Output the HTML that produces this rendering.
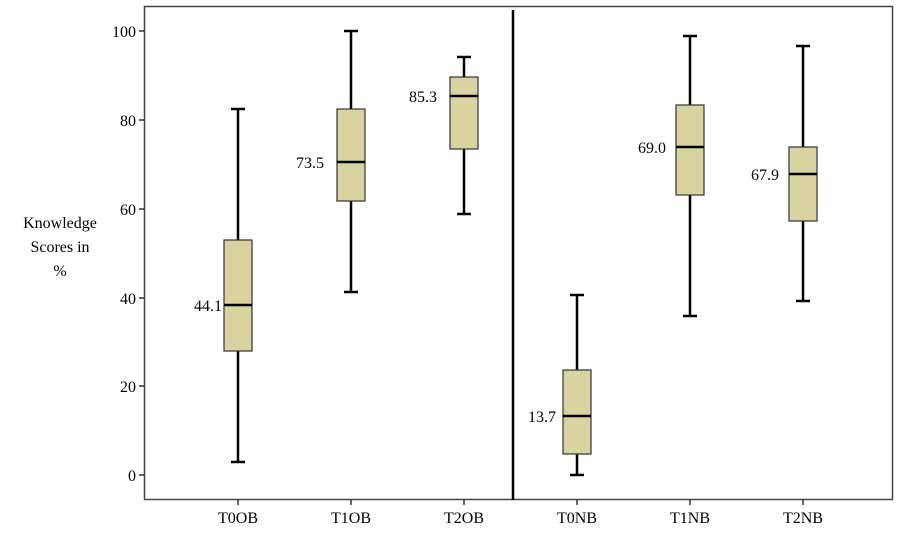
<!DOCTYPE html>
<html><head><meta charset="utf-8"><style>body{margin:0;background:#fff}</style></head><body>
<svg width="903" height="531" xmlns="http://www.w3.org/2000/svg" font-family="Liberation Serif, serif" font-size="16" fill="#000">
<rect x="0" y="0" width="903" height="531" fill="#fff"/>
<rect x="144.5" y="6.5" width="748" height="493" fill="none" stroke="#444" stroke-width="1.5"/>
<g stroke="#000" stroke-width="1.2">
<line x1="139" y1="31" x2="144" y2="31"/><line x1="139" y1="120" x2="144" y2="120"/><line x1="139" y1="209" x2="144" y2="209"/><line x1="139" y1="298" x2="144" y2="298"/><line x1="139" y1="386" x2="144" y2="386"/><line x1="139" y1="475" x2="144" y2="475"/>
<line x1="238" y1="500" x2="238" y2="505"/><line x1="351" y1="500" x2="351" y2="505"/><line x1="464" y1="500" x2="464" y2="505"/><line x1="577" y1="500" x2="577" y2="505"/><line x1="690" y1="500" x2="690" y2="505"/><line x1="803" y1="500" x2="803" y2="505"/>
</g>
<g text-anchor="end">
<text x="136" y="37">100</text><text x="136" y="126">80</text><text x="136" y="215">60</text><text x="136" y="304">40</text><text x="136" y="392">20</text><text x="136" y="481">0</text>
</g>
<g text-anchor="middle">
<text x="238" y="523">T0OB</text><text x="351" y="523">T1OB</text><text x="464" y="523">T2OB</text><text x="577" y="523">T0NB</text><text x="690" y="523">T1NB</text><text x="803" y="523">T2NB</text>
<text x="60" y="228">Knowledge</text><text x="60" y="252">Scores in</text><text x="60" y="276">%</text>
</g>
<line x1="513" y1="10" x2="513" y2="500" stroke="#000" stroke-width="2.5"/>
<g stroke="#000" stroke-width="2.5">
<line x1="238" y1="109" x2="238" y2="462"/><line x1="231" y1="109" x2="245" y2="109"/><line x1="231" y1="462" x2="245" y2="462"/>
<line x1="351" y1="31" x2="351" y2="292"/><line x1="344" y1="31" x2="358" y2="31"/><line x1="344" y1="292" x2="358" y2="292"/>
<line x1="464" y1="57" x2="464" y2="214"/><line x1="457" y1="57" x2="471" y2="57"/><line x1="457" y1="214" x2="471" y2="214"/>
<line x1="577" y1="295" x2="577" y2="475"/><line x1="570" y1="295" x2="584" y2="295"/><line x1="570" y1="475" x2="584" y2="475"/>
<line x1="690" y1="36" x2="690" y2="316"/><line x1="683" y1="36" x2="697" y2="36"/><line x1="683" y1="316" x2="697" y2="316"/>
<line x1="803" y1="46" x2="803" y2="301"/><line x1="796" y1="46" x2="810" y2="46"/><line x1="796" y1="301" x2="810" y2="301"/>
</g>
<g fill="#d9d3a0" stroke="#333" stroke-width="1.2">
<rect x="224" y="240" width="28" height="111"/>
<rect x="337" y="109" width="28" height="92"/>
<rect x="450" y="77" width="28" height="72"/>
<rect x="563" y="370" width="28" height="84"/>
<rect x="676" y="105" width="28" height="90"/>
<rect x="789" y="147" width="28" height="74"/>
</g>
<g stroke="#000" stroke-width="2.5">
<line x1="224" y1="305" x2="252" y2="305"/><line x1="337" y1="162" x2="365" y2="162"/><line x1="450" y1="96" x2="478" y2="96"/>
<line x1="563" y1="416" x2="591" y2="416"/><line x1="676" y1="147" x2="704" y2="147"/><line x1="789" y1="174" x2="817" y2="174"/>
</g>
<g text-anchor="end">
<text x="222" y="311">44.1</text><text x="324" y="168">73.5</text><text x="437" y="102">85.3</text>
<text x="556" y="422">13.7</text><text x="666" y="153">69.0</text><text x="779" y="180">67.9</text>
</g>
</svg>
</body></html>
